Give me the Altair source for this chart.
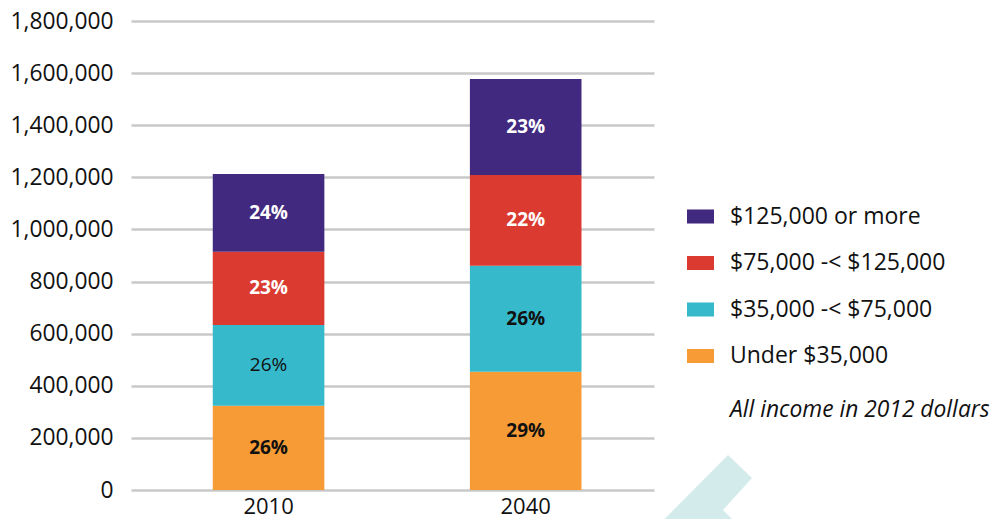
import altair as alt
import pandas as pd

years = ["2010", "2040"]
categories = ["Under $35,000", "$35,000 -< $75,000", "$75,000 -< $125,000", "$125,000 or more"]
legend_order = ["$125,000 or more", "$75,000 -< $125,000", "$35,000 -< $75,000", "Under $35,000"]
legend_colors = ["#422980", "#da3a30", "#36b9cb", "#f69b35"]
values_2010 = [323600, 309800, 281400, 298200]
values_2040 = [454100, 406900, 348200, 368500]
labels_2010 = ["26%", "26%", "23%", "24%"]
labels_2040 = ["29%", "26%", "22%", "23%"]
weights_2010 = ["bold", "normal", "bold", "bold"]
weights_2040 = ["bold", "bold", "bold", "bold"]
text_colors = ["#111111", "#111111", "#ffffff", "#ffffff"]
y_ticks = [0, 200000, 400000, 600000, 800000, 1000000, 1200000, 1400000, 1600000, 1800000]

rows = []
for yr, vals, labs, wts in [("2010", values_2010, labels_2010, weights_2010),
                            ("2040", values_2040, labels_2040, weights_2040)]:
    for i, cat in enumerate(categories):
        rows.append({"year": yr, "category": cat, "value": vals[i], "label": labs[i],
                     "weight": wts[i], "tcolor": text_colors[i], "idx": i})
df = pd.DataFrame(rows)

FONT = "Open Sans"

x_scale = alt.Scale(paddingInner=0.566, paddingOuter=0.30, align=0.53)
x_axis = alt.Axis(title=None, labelAngle=0, domain=False, ticks=False,
                  labelPadding=6, labelFontSize=22, labelFont=FONT,
                  labelColor="#111111", grid=False)
y_scale = alt.Scale(domain=[0, 1800000], nice=False)
y_axis = alt.Axis(title=None, values=y_ticks, format=",.0f", domain=False, ticks=False,
                  labelPadding=18, labelFontSize=22.8, labelFont=FONT,
                  labelColor="#111111", gridColor="#c8c8c8", gridWidth=2.5)

bars = alt.Chart(df).mark_bar().encode(
    x=alt.X("year:N", sort=years, scale=x_scale, axis=x_axis),
    y=alt.Y("value:Q", stack="zero", scale=y_scale, axis=y_axis),
    color=alt.Color("category:N",
                    scale=alt.Scale(domain=legend_order, range=legend_colors),
                    legend=alt.Legend(title=None, orient="none", legendX=556, legendY=182,
                                      symbolType="M-1,-0.52 H1 V0.52 H-1 Z", symbolSize=729,
                                      symbolStrokeWidth=0, labelFontSize=23, labelFont=FONT,
                                      labelColor="#111111", labelOffset=16, rowPadding=20.5,
                                      labelLimit=400)),
    order=alt.Order("idx:Q", sort="ascending"),
)

base_text = alt.Chart(df).transform_stack(
    stack="value", groupby=["year"], as_=["y0", "y1"],
    sort=[alt.SortField("idx", order="ascending")]
).transform_calculate(mid="(datum.y0 + datum.y1) / 2")

def text_layer(weight):
    return base_text.transform_filter(alt.datum.weight == weight).mark_text(
        fontSize=19, font=FONT, fontWeight=weight, baseline="middle"
    ).encode(
        x=alt.X("year:N", sort=years, scale=x_scale, axis=x_axis),
        y=alt.Y("mid:Q", scale=y_scale, axis=y_axis),
        text="label:N",
        color=alt.Color("tcolor:N", scale=None),
    )

note = alt.Chart(pd.DataFrame({"t": ["All income in 2012 dollars"]})).mark_text(
    align="left", baseline="middle", fontSize=22.8, font=FONT, fontStyle="italic", color="#111111"
).encode(x=alt.value(599), y=alt.value(389), text="t:N")

watermark = alt.Chart(pd.DataFrame({"k": ["w"]})).mark_point(
    shape="M-1.62,1.2 L0.46,-0.9 L0.94,-0.44 L0.36,0.2 L1.36,1.2 Z",
    filled=True, color="#d4ebeb", opacity=1, size=10000, strokeWidth=0
).encode(x=alt.value(574), y=alt.value(479))

chart = alt.layer(watermark, bars, text_layer("bold"), text_layer("normal"), note).properties(
    width=523, height=469,
    autosize=alt.AutoSizeParams(type="none"),
    padding={"left": 123, "top": 13, "right": 341, "bottom": 29},
).configure_view(stroke=None).resolve_scale(color="independent")

chart.save("out.html", embed_options={"renderer": "svg", "actions": False})
